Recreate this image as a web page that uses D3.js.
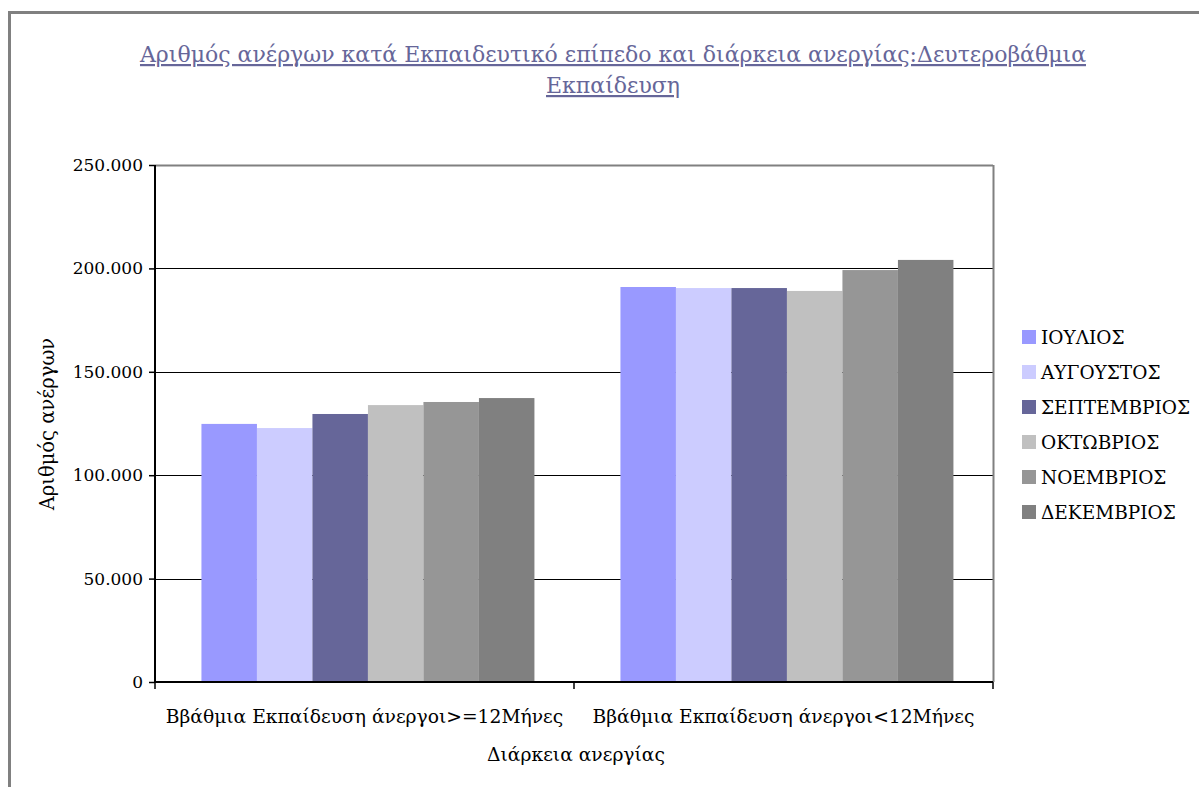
<!DOCTYPE html>
<html>
<head>
<meta charset="utf-8">
<script src="https://cdn.jsdelivr.net/npm/d3@7"></script>
<style>
  body { margin: 0; background: #fff; }
  svg text { font-family: "DejaVu Serif", "Liberation Serif", serif; }
</style>
</head>
<body>
<svg id="chart" width="1199" height="787"></svg>
<script>
var categories = ["Ββάθμια Εκπαίδευση άνεργοι>=12Μήνες", "Ββάθμια Εκπαίδευση άνεργοι<12Μήνες"];
var months = ["ΙΟΥΛΙΟΣ", "ΑΥΓΟΥΣΤΟΣ", "ΣΕΠΤΕΜΒΡΙΟΣ", "ΟΚΤΩΒΡΙΟΣ", "ΝΟΕΜΒΡΙΟΣ", "ΔΕΚΕΜΒΡΙΟΣ"];
var colors = ["#9999FF", "#CCCCFF", "#666699", "#C0C0C0", "#969696", "#808080"];
// one array per month: [>=12 months, <12 months]
var iouliosVals = [124800, 191000];
var avgoustosVals = [122800, 190500];
var septemvriosVals = [129600, 190500];
var oktovriosVals = [133900, 189100];
var noemvriosVals = [135400, 199200];
var dekemvriosVals = [137300, 204100];
var yTicks = [0, 50000, 100000, 150000, 200000, 250000];

var series = [iouliosVals, avgoustosVals, septemvriosVals, oktovriosVals, noemvriosVals, dekemvriosVals];

var margin = {top: 165, left: 155, right: 206, bottom: 105},
    width = 1199 - margin.left - margin.right,
    height = 787 - margin.top - margin.bottom;

var svg = d3.select("#chart");

// outer frame
svg.append("rect")
  .attr("x", 9.5).attr("y", 12.5)
  .attr("width", 1300).attr("height", 900)
  .attr("fill", "none").attr("stroke", "#808080").attr("stroke-width", 3);

// title
var title = svg.append("text")
  .attr("text-anchor", "middle")
  .attr("fill", "#666699")
  .attr("font-size", 22)
  .attr("text-decoration", "underline");
title.append("tspan").attr("x", 613).attr("y", 62)
  .text("Αριθμός ανέργων κατά Εκπαιδευτικό επίπεδο και διάρκεια ανεργίας:Δευτεροβάθμια");
title.append("tspan").attr("x", 613).attr("y", 93)
  .text("Εκπαίδευση");

var g = svg.append("g")
  .attr("transform", "translate(" + margin.left + "," + margin.top + ")");

var x = d3.scaleBand()
  .domain(categories)
  .range([0, width]);

var xInner = d3.scaleBand()
  .domain(months)
  .range([0, x.bandwidth()])
  .paddingOuter(0.775)
  .paddingInner(0)
  .align(0.54);

var y = d3.scaleLinear()
  .domain([0, 250000])
  .range([height, 0]);

// gridlines
g.append("g")
  .selectAll("line")
  .data(yTicks.filter(function(d) { return d > 0; }))
  .enter().append("line")
  .attr("x1", 0).attr("x2", width)
  .attr("y1", function(d) { return Math.round(y(d)) + 0.5; })
  .attr("y2", function(d) { return Math.round(y(d)) + 0.5; })
  .attr("stroke", "#000").attr("stroke-width", 1);

// plot area frame (top, right)
g.append("line")
  .attr("x1", width + 0.5).attr("x2", width + 0.5)
  .attr("y1", 0).attr("y2", height)
  .attr("stroke", "#808080").attr("stroke-width", 2);
g.append("line")
  .attr("x1", 0).attr("x2", width)
  .attr("y1", 0.5).attr("y2", 0.5)
  .attr("stroke", "#808080").attr("stroke-width", 2);

// bars
months.forEach(function(m, i) {
  g.append("g")
    .selectAll("rect")
    .data(series[i])
    .enter().append("rect")
    .attr("x", function(d, j) { return x(categories[j]) + xInner(m); })
    .attr("y", function(d) { return y(d); })
    .attr("width", xInner.bandwidth())
    .attr("height", function(d) { return height - y(d); })
    .attr("fill", colors[i]);
});

// y axis
var yAxis = g.append("g")
  .call(d3.axisLeft(y).tickValues(yTicks).tickSize(6).tickPadding(6)
    .tickFormat(function(d) { return d === 0 ? "0" : d3.format(",")(d).replace(/,/g, "."); }));
yAxis.select(".domain").attr("stroke", "#000").attr("stroke-width", 2).attr("d", "M0,0V" + height);
yAxis.selectAll(".tick line").attr("stroke", "#000").attr("stroke-width", 1.5);
yAxis.selectAll(".tick text").attr("font-size", 17).attr("fill", "#000")
  .attr("font-family", "DejaVu Serif, serif");

// x axis
var xAxis = g.append("g")
  .attr("transform", "translate(0," + height + ")");
xAxis.append("line")
  .attr("x1", 0).attr("x2", width).attr("y1", 0).attr("y2", 0)
  .attr("stroke", "#000").attr("stroke-width", 2);
xAxis.selectAll(".xtick")
  .data([0, x.bandwidth(), width])
  .enter().append("line")
  .attr("x1", function(d) { return d; }).attr("x2", function(d) { return d; })
  .attr("y1", 0).attr("y2", 7)
  .attr("stroke", "#000").attr("stroke-width", 1.5);
xAxis.selectAll(".xlabel")
  .data(categories)
  .enter().append("text")
  .attr("x", function(d) { return x(d) + x.bandwidth() / 2; })
  .attr("y", 41)
  .attr("text-anchor", "middle")
  .attr("font-size", 18.7)
  .text(function(d) { return d; });

// axis titles
svg.append("text")
  .attr("x", 576).attr("y", 761)
  .attr("text-anchor", "middle")
  .attr("font-size", 18.7)
  .text("Διάρκεια ανεργίας");

svg.append("text")
  .attr("transform", "translate(54,424) rotate(-90)")
  .attr("text-anchor", "middle")
  .attr("font-size", 19.5)
  .text("Αριθμός ανέργων");

// legend
var legend = svg.append("g").attr("transform", "translate(1022,330)");
var items = legend.selectAll("g")
  .data(months)
  .enter().append("g")
  .attr("transform", function(d, i) { return "translate(0," + (i * 35) + ")"; });
items.append("rect")
  .attr("width", 14).attr("height", 14)
  .attr("fill", function(d, i) { return colors[i]; });
items.append("text")
  .attr("x", 19).attr("y", 13.5)
  .attr("font-size", 18.5)
  .text(function(d) { return d; });
</script>
</body>
</html>
